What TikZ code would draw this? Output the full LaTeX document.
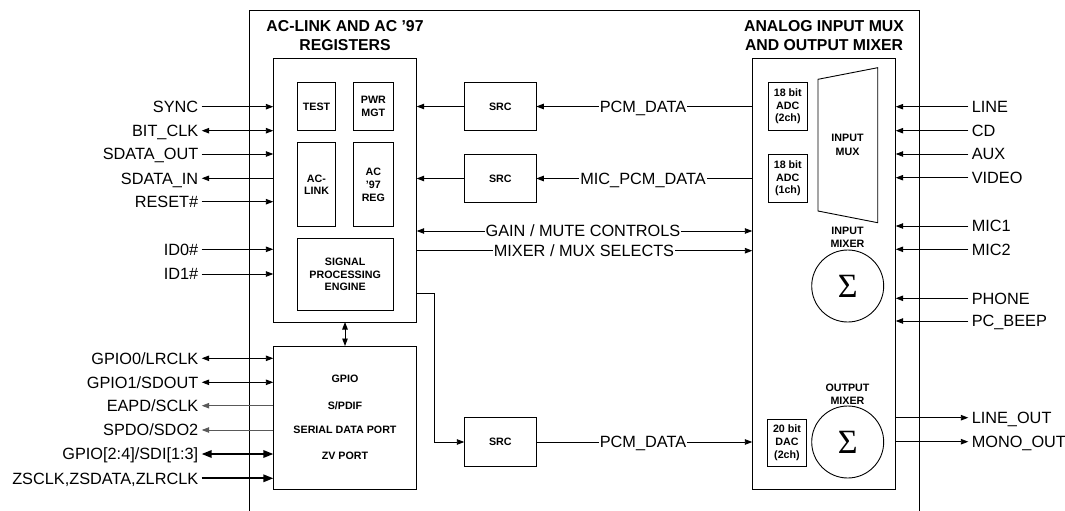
\documentclass[tikz,border=0pt]{standalone}
\usepackage{fontspec}
\setmainfont{Liberation Sans}
\newfontfamily\sigmafont{Liberation Serif}
\usetikzlibrary{arrows.meta,calc}
\begin{document}
\begin{tikzpicture}[x=1pt,y=-1pt,
  line width=0.9pt,
  tip/.tip={Triangle[length=7.5pt,width=5.5pt]},
  bigtip/.tip={Triangle[length=10pt,width=7.5pt]},
  box/.style={draw, inner sep=0pt, outer sep=0pt, align=center,
    font=\fontsize{10.7}{12.7}\selectfont\bfseries},
  title/.style={align=center, font=\fontsize{15.8}{19}\selectfont\bfseries},
  sig/.style={inner xsep=3pt, inner ysep=0pt, text height=11.5pt, text depth=0pt,
    font=\fontsize{16.3}{18}\selectfont},
  midlab/.style={sig, fill=white, inner xsep=1pt},
  inlab/.style={align=center, font=\fontsize{10.7}{13.3}\selectfont\bfseries},
  sum/.style={draw, circle, minimum size=72pt, inner sep=0pt,
    font=\sigmafont\fontsize{34}{34}\selectfont},
  thick line/.style={line width=1.8pt},
  grey line/.style={draw=black!65}
]
\useasboundingbox (0,0) rectangle (1065,511);

% outer frame
\draw (249.3,512) -- (249.3,10.7) -- (919.3,10.7) -- (919.3,512);

% titles
\node[title] (t1) at (345,35.5) {AC-LINK AND AC '97\\REGISTERS};
\node[title] (t2) at (824,35.5) {ANALOG INPUT MUX\\AND OUTPUT MIXER};

% left block
\node[box, minimum width=143.4pt, minimum height=263.3pt] (reg) at (345,190.35) {};
\node[box, minimum width=38.4pt, minimum height=47.3pt] (test) at (316.5,106.35) {TEST};
\node[box, minimum width=39.3pt, minimum height=47.3pt] (pwr) at (373.35,106.35) {PWR\\MGT};
\node[box, minimum width=38.4pt, minimum height=84pt] (aclink) at (316.5,184.7) {AC-\\LINK};
\node[box, minimum width=39.3pt, minimum height=84pt] (ac97) at (373.35,184.7) {AC\\'97\\REG};
\node[box, minimum width=95.7pt, minimum height=72.7pt] (spe) at (345.15,274.35) {SIGNAL\\PROCESSING\\ENGINE};

\node[box, minimum width=143.4pt, minimum height=143.3pt] (gpio) at (345,417.65) {};
\node[inlab] (g1) at (345,379.3) {GPIO};
\node[inlab] (g2) at (345,405.7) {S/PDIF};
\node[inlab] (g3) at (345,430) {SERIAL DATA PORT};
\node[inlab] (g4) at (345,455.7) {ZV PORT};

\draw[tip-tip] (reg.south) -- (gpio.north);

% SRC blocks
\node[box, minimum width=72pt, minimum height=48.4pt] (src1) at (500.3,106.5) {SRC};
\node[box, minimum width=72pt, minimum height=48.4pt] (src2) at (500.3,178.5) {SRC};
\node[box, minimum width=72pt, minimum height=48.4pt] (src3) at (500.3,442) {SRC};

% right block
\node[box, minimum width=143.4pt, minimum height=430.6pt] (mix) at (824,274) {};
\node[box, minimum width=39pt, minimum height=47.3pt] (adc1) at (787.8,106.35) {18 bit\\ADC\\(2ch)};
\node[box, minimum width=39pt, minimum height=48pt] (adc2) at (787.8,178.3) {18 bit\\ADC\\(1ch)};
\node[box, minimum width=39.4pt, minimum height=46.7pt] (dac) at (787,442.65) {20 bit\\DAC\\(2ch)};
\draw (818,79.3) -- (877.7,67.7) -- (877.7,222.7) -- (818,211) -- cycle;
\node[inlab] (muxl) at (847.5,145) {INPUT\\MUX};
\node[inlab] (imixl) at (847.5,237.5) {INPUT\\MIXER};
\node[sum] (c1) at (847.7,286) {Σ};
\node[inlab] (omixl) at (847.5,394) {OUTPUT\\MIXER};
\node[sum] (c2) at (847.7,442) {Σ};

% middle connectors
\draw[-tip] (src1.west) -- (src1.west -| reg.east);
\draw[-tip] (src2.west) -- (src2.west -| reg.east);
\draw[-tip] (mix.west |- src1.east) -- (src1.east);
\node[midlab] (pcm1) at (643,106.5) {PCM\_DATA};
\draw[-tip] (mix.west |- src2.east) -- (src2.east);
\node[midlab] (mic) at (643,178.5) {MIC\_PCM\_DATA};
\coordinate (gy) at (0,231);
\coordinate (my) at (0,250.7);
\draw[tip-tip] (reg.east |- gy) -- (mix.west |- gy);
\node[midlab] (gain) at (583,231) {GAIN / MUTE CONTROLS};
\draw[-tip] (reg.east |- my) -- (mix.west |- my);
\node[midlab] (msel) at (584,250.7) {MIXER / MUX SELECTS};
\coordinate (speout) at (416.7,293.3);
\coordinate (bend) at (434.3,293.3);
\draw[-tip] (speout) -- (bend) |- (src3.west);
\draw[-tip] (src3.east) -- (src3.east -| mix.west);
\node[midlab] (pcm2) at (643,442) {PCM\_DATA};

% left signals
\node[sig, anchor=east] (sync) at (201.7,106.7) {SYNC};
\node[sig, anchor=east] (bclk) at (201.7,130.7) {BIT\_CLK};
\node[sig, anchor=east] (sdo) at (201.7,154) {SDATA\_OUT};
\node[sig, anchor=east] (sdi) at (201.7,178.3) {SDATA\_IN};
\node[sig, anchor=east] (rst) at (201.7,201.7) {RESET\#};
\node[sig, anchor=east] (id0) at (201.7,249.3) {ID0\#};
\node[sig, anchor=east] (id1) at (201.7,274) {ID1\#};
\draw[-tip] (sync.east) -- (sync.east -| reg.west);
\draw[tip-tip] (bclk.east) -- (bclk.east -| reg.west);
\draw[-tip] (sdo.east) -- (sdo.east -| reg.west);
\draw[tip-] (sdi.east) -- (sdi.east -| reg.west);
\draw[-tip] (rst.east) -- (rst.east -| reg.west);
\draw[-tip] (id0.east) -- (id0.east -| reg.west);
\draw[-tip] (id1.east) -- (id1.east -| reg.west);

\node[sig, anchor=east] (gp0) at (201.7,358.3) {GPIO0/LRCLK};
\node[sig, anchor=east] (gp1) at (201.7,382.3) {GPIO1/SDOUT};
\node[sig, anchor=east] (eapd) at (201.7,405.7) {EAPD/SCLK};
\node[sig, anchor=east] (spdo) at (201.7,430) {SPDO/SDO2};
\node[sig, anchor=east] (gp24) at (201.7,454) {GPIO[2:4]/SDI[1:3]};
\node[sig, anchor=east] (zs) at (201.7,478.3) {ZSCLK,ZSDATA,ZLRCLK};
\draw[tip-tip] (gp0.east) -- (gp0.east -| gpio.west);
\draw[tip-tip] (gp1.east) -- (gp1.east -| gpio.west);
\draw[grey line, tip-] (eapd.east) -- (eapd.east -| gpio.west);
\draw[grey line, tip-] (spdo.east) -- (spdo.east -| gpio.west);
\draw[thick line, bigtip-bigtip] (gp24.east) -- (gp24.east -| gpio.west);
\draw[thick line, -bigtip] (zs.east) -- (zs.east -| gpio.west);

% right signals
\node[sig, anchor=west] (line) at (968.3,106.7) {LINE};
\node[sig, anchor=west] (cd) at (968.3,130.7) {CD};
\node[sig, anchor=west] (aux) at (968.3,154) {AUX};
\node[sig, anchor=west] (video) at (968.3,177.7) {VIDEO};
\node[sig, anchor=west] (mic1) at (968.3,226) {MIC1};
\node[sig, anchor=west] (mic2) at (968.3,249.3) {MIC2};
\node[sig, anchor=west] (phone) at (968.3,298.3) {PHONE};
\node[sig, anchor=west] (beep) at (968.3,321) {PC\_BEEP};
\node[sig, anchor=west] (lout) at (968.3,417.7) {LINE\_OUT};
\node[sig, anchor=west] (mout) at (968.3,441.7) {MONO\_OUT};
\foreach \n in {line,cd,aux,video,mic1,mic2,phone,beep}
  \draw[-tip] (\n.west) -- (\n.west -| mix.east);
\draw[-tip] (lout.west -| mix.east) -- (lout.west);
\draw[-tip] (mout.west -| mix.east) -- (mout.west);
\end{tikzpicture}
\end{document}
